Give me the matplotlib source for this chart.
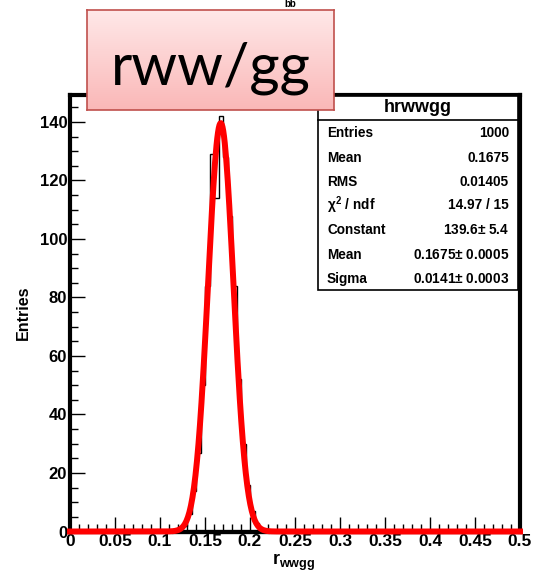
import numpy as np
import matplotlib
matplotlib.use("Agg")
import matplotlib.pyplot as plt
import matplotlib.transforms as mtrans
from matplotlib.ticker import MultipleLocator
from matplotlib.patches import Rectangle

# histogram of r_wwgg (bin width 0.005)
bin_start = 0.115
bin_width = 0.005
counts = [1, 1, 2, 6, 14, 27, 50, 84, 129, 114, 142, 128, 108, 84, 52, 30, 16, 7, 3, 1, 1]

# fit result from the stats box
fit_const = 139.6
fit_mean = 0.1675
fit_sigma = 0.0141

stat_names = ["Entries", "Mean", "RMS", r"$\chi^2$ / ndf", "Constant", "Mean", "Sigma"]
stat_values = ["1000", "0.1675", "0.01405", "14.97 / 15",
               "139.6$\\pm$ 5.4", "0.1675$\\pm$ 0.0005", "0.0141$\\pm$ 0.0003"]

plt.rcParams['font.family'] = ['Liberation Sans', 'DejaVu Sans']
plt.rcParams['mathtext.fontset'] = 'custom'
plt.rcParams['mathtext.rm'] = 'Liberation Sans:bold'
plt.rcParams['mathtext.it'] = 'Liberation Sans:bold'
plt.rcParams['mathtext.bf'] = 'Liberation Sans:bold'

W, H = 534, 575
fig = plt.figure(figsize=(W / 100, H / 100), dpi=100)
ax = fig.add_axes([70 / W, 1 - 531.5 / H, 450 / W, 436.5 / H])

edges = bin_start + bin_width * np.arange(len(counts) + 1)
ax.stairs(counts, edges, color='black', lw=1.0, zorder=2)
ax.plot([edges[0], edges[-1]], [0, 0], color='black', lw=3, zorder=2, clip_on=False)

xf = np.linspace(0, 0.5, 600)
yf = fit_const * np.exp(-0.5 * ((xf - fit_mean) / fit_sigma) ** 2)
ax.plot(xf, yf, color='red', lw=4.3, zorder=3, clip_on=False)

ax.set_xlim(0, 0.5)
ax.set_ylim(0, 149.2)
ax.xaxis.set_major_locator(MultipleLocator(0.05))
ax.xaxis.set_minor_locator(MultipleLocator(0.01))
ax.yaxis.set_major_locator(MultipleLocator(20))
ax.yaxis.set_minor_locator(MultipleLocator(5))
ax.set_xticks(np.arange(0, 0.501, 0.05))
ax.set_xticklabels(["0", "0.05", "0.1", "0.15", "0.2", "0.25", "0.3", "0.35", "0.4", "0.45", "0.5"])
ax.tick_params(which='both', direction='in', top=False, right=False)
ax.tick_params(which='major', length=11, width=1)
ax.tick_params(which='minor', length=6, width=1)
ax.tick_params(axis='x', labelsize=12.5, pad=2)
ax.tick_params(axis='y', labelsize=12, pad=2)
for lab in ax.get_xticklabels() + ax.get_yticklabels():
    lab.set_fontweight('bold')
for s in ax.spines.values():
    s.set_linewidth(3)

# nudge the corner "0" of the y axis so it clears the x axis "0"
ylab0 = ax.get_yticklabels()[0]
ylab0.set_transform(ylab0.get_transform() + mtrans.ScaledTranslation(-2 / 100, 3 / 100, fig.dpi_scale_trans))

fig.text(23 / W, 1 - 313 / H, "Entries", rotation=90, ha='center', va='center',
         fontsize=11.5, fontweight='bold')
fig.text(294 / W, 1 - 562 / H, r"r$_{\mathregular{wwgg}}$", ha='center', va='center',
         fontsize=13, fontweight='bold')

# stats box
bx0, bx1, by0, by1 = 318, 518, 96, 290
fig.patches.append(Rectangle((bx0 / W, 1 - by1 / H), (bx1 - bx0) / W, (by1 - by0) / H,
                             transform=fig.transFigure, facecolor='white',
                             edgecolor='black', lw=1.2, zorder=5))
fig.add_artist(plt.Line2D([bx0 / W, bx1 / W], [1 - 120 / H, 1 - 120 / H],
                          transform=fig.transFigure, color='black', lw=1.2, zorder=6))
fig.text((bx0 + bx1) / 2 / W, 1 - 108 / H, "hrwwgg", ha='center', va='center',
         fontsize=13, fontweight='bold', zorder=7)
row_y = [133, 158, 182, 205, 230, 255, 279]
for name, val, ry in zip(stat_names, stat_values, row_y):
    fig.text(327 / W, 1 - ry / H, name, ha='left', va='center', fontsize=9.8,
             fontweight='bold', zorder=7)
    fig.text(509 / W, 1 - ry / H, val, ha='right', va='center', fontsize=9.8,
             fontweight='bold', zorder=7)

# hidden title fragment
fig.text(290 / W, 1 - 4 / H, "bb", ha='center', va='center', fontsize=7, fontweight='bold')

# pink title box
tax = fig.add_axes([87 / W, 1 - 110 / H, 247 / W, 100 / H], zorder=10)
grad = np.linspace(0, 1, 100).reshape(-1, 1)
top_c = np.array([1.0, 0.91, 0.91])
bot_c = np.array([0.98, 0.72, 0.72])
img = top_c + (bot_c - top_c) * grad[:, :, None]
tax.imshow(img, aspect='auto', extent=[0, 1, 0, 1], origin='upper')
tax.set_xlim(0, 1)
tax.set_ylim(0, 1)
tax.set_xticks([])
tax.set_yticks([])
for s in tax.spines.values():
    s.set_color('#c0504d')
    s.set_linewidth(1.2)
tax.text(0.5, 0.42, "rww/gg", ha='center', va='center', fontsize=42,
         family=['Lato', 'DejaVu Sans'], color='black')

fig.savefig("out.png", dpi=100)
